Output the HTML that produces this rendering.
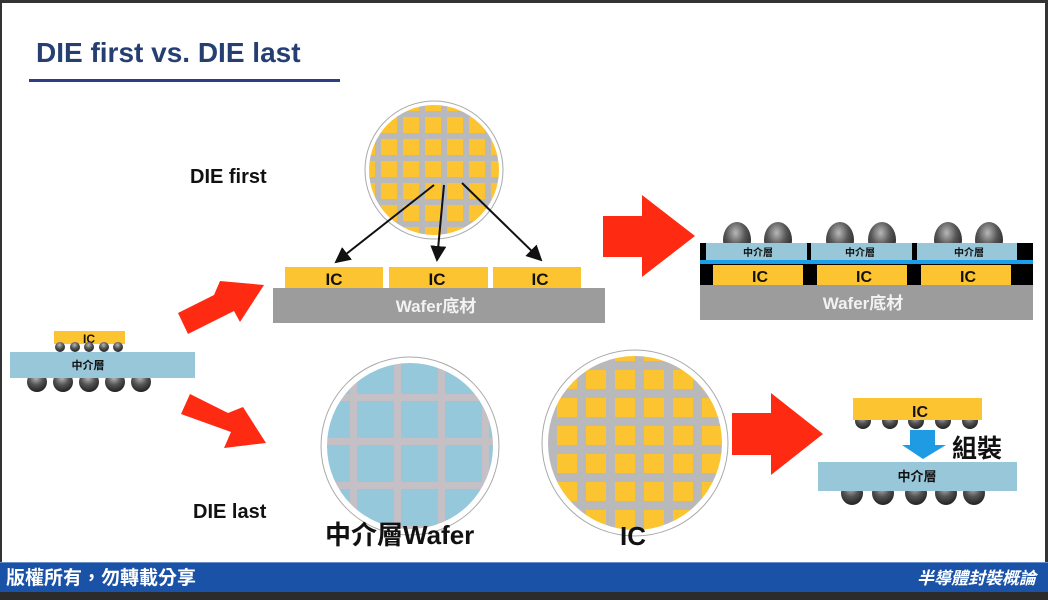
<!DOCTYPE html>
<html><head><meta charset="utf-8"><style>
html,body{margin:0;padding:0;background:#fff;}
body{width:1048px;height:600px;overflow:hidden;position:relative;}
svg{position:absolute;left:0;top:0;}
text{font-family:"Liberation Sans","Noto Sans CJK TC",sans-serif;}
</style></head><body>
<svg width="1048" height="600" viewBox="0 0 1048 600">
<defs>
<pattern id="yg" x="2" y="2" width="22" height="22" patternUnits="userSpaceOnUse">
<rect width="22" height="22" fill="#b9b9bb"/><rect x="5" y="5" width="16" height="16" fill="#fcc430"/></pattern>
<pattern id="yg2" x="0" y="0" width="29" height="28" patternUnits="userSpaceOnUse">
<rect width="29" height="28" fill="#b9b9bb"/><rect x="6" y="6" width="20" height="19" fill="#fcc430"/></pattern>
<pattern id="bg" x="0" y="0" width="44" height="44" patternUnits="userSpaceOnUse">
<rect width="44" height="44" fill="#c4c0c6"/><rect x="5" y="5" width="37" height="37" fill="#94c8da"/></pattern>
<radialGradient id="ball" cx="0.45" cy="0.3" r="0.7"><stop offset="0" stop-color="#b8b8b8"/><stop offset="0.5" stop-color="#555"/><stop offset="1" stop-color="#222"/></radialGradient>
<marker id="ah" markerWidth="8" markerHeight="8" refX="7" refY="4" orient="auto"><path d="M0,0 L8,4 L0,8 z" fill="#111"/></marker>
</defs>
<rect x="0" y="0" width="1048" height="3" fill="#333"/>
<rect x="0" y="0" width="2" height="600" fill="#333"/>
<rect x="1045" y="0" width="3" height="600" fill="#333"/>
<text x="36" y="62" font-size="28" font-weight="bold" fill="#263f73">DIE first vs. DIE last</text>
<rect x="29" y="79" width="311" height="3" fill="#2d3f7d"/>

<text x="190" y="183" font-size="20" font-weight="bold" fill="#111">DIE first</text>
<text x="193" y="518" font-size="20" font-weight="bold" fill="#111">DIE last</text>

<circle cx="434" cy="170" r="69" fill="#fff" stroke="#aaa" stroke-width="1"/>
<circle cx="434" cy="170" r="65" fill="url(#yg)"/>
<line x1="434" y1="185" x2="336" y2="262" stroke="#111" stroke-width="2" marker-end="url(#ah)"/>
<line x1="444" y1="185" x2="437" y2="260" stroke="#111" stroke-width="2" marker-end="url(#ah)"/>
<line x1="462" y1="183" x2="541" y2="260" stroke="#111" stroke-width="2" marker-end="url(#ah)"/>
<rect x="285" y="267" width="98" height="22" fill="#fcc430"/>
<rect x="389" y="267" width="99" height="22" fill="#fcc430"/>
<rect x="493" y="267" width="88" height="22" fill="#fcc430"/>
<g font-size="17" font-weight="bold" fill="#111" text-anchor="middle">
<text x="334" y="285">IC</text><text x="437" y="285">IC</text><text x="540" y="285">IC</text></g>
<rect x="273" y="288" width="332" height="35" fill="#9c9c9c"/>
<text x="436" y="312" font-size="17" font-weight="bold" fill="#f2f2f2" text-anchor="middle">Wafer底材</text>

<rect x="54" y="331" width="71" height="13" fill="#fcc430"/>
<text x="89" y="343" font-size="12" font-weight="bold" fill="#111" text-anchor="middle">IC</text>
<g fill="url(#ball)"><circle cx="60" cy="347" r="5"/><circle cx="75" cy="347" r="5"/><circle cx="89" cy="347" r="5"/><circle cx="104" cy="347" r="5"/><circle cx="118" cy="347" r="5"/></g>
<g fill="url(#ball)"><ellipse cx="37" cy="382" rx="10" ry="10"/><ellipse cx="63" cy="382" rx="10" ry="10"/><ellipse cx="89" cy="382" rx="10" ry="10"/><ellipse cx="115" cy="382" rx="10" ry="10"/><ellipse cx="141" cy="382" rx="10" ry="10"/></g>
<rect x="10" y="352" width="185" height="26" fill="#97c7d8"/>
<text x="88" y="369" font-size="11" font-weight="bold" fill="#111" text-anchor="middle">中介層</text>

<polygon fill="#fe2a12" points="178,313 214,295 220,281 264,285 240,322 234,311 188,334"/>
<polygon fill="#fe2a12" points="181,414 190,394 228,413 243,407 266,443 224,448 231,432"/>
<polygon fill="#fe2a12" points="603,216 642,216 642,195 695,236 642,277 642,257 603,257"/>
<polygon fill="#fe2a12" points="732,413 771,413 771,393 823,434 771,475 771,455 732,455"/>

<g fill="url(#ball)">
<ellipse cx="737" cy="240" rx="14" ry="18"/><ellipse cx="778" cy="240" rx="14" ry="18"/>
<ellipse cx="840" cy="240" rx="14" ry="18"/><ellipse cx="882" cy="240" rx="14" ry="18"/>
<ellipse cx="948" cy="240" rx="14" ry="18"/><ellipse cx="989" cy="240" rx="14" ry="18"/></g>
<rect x="700" y="243" width="333" height="43" fill="#000"/>
<rect x="706" y="243" width="101" height="17" fill="#97c7d8"/>
<rect x="811" y="243" width="101" height="17" fill="#97c7d8"/>
<rect x="917" y="243" width="100" height="17" fill="#97c7d8"/>
<rect x="700" y="260" width="333" height="4" fill="#1aa0e8"/>
<rect x="713" y="265" width="90" height="21" fill="#fcc430"/>
<rect x="817" y="265" width="90" height="21" fill="#fcc430"/>
<rect x="921" y="265" width="90" height="21" fill="#fcc430"/>
<g font-size="10" font-weight="bold" fill="#111" text-anchor="middle">
<text x="758" y="256">中介層</text><text x="860" y="256">中介層</text><text x="969" y="256">中介層</text></g>
<g font-size="16" font-weight="bold" fill="#111" text-anchor="middle">
<text x="760" y="282">IC</text><text x="864" y="282">IC</text><text x="968" y="282">IC</text></g>
<rect x="700" y="285" width="333" height="35" fill="#9c9c9c"/>
<text x="863" y="309" font-size="17" font-weight="bold" fill="#f2f2f2" text-anchor="middle">Wafer底材</text>

<circle cx="410" cy="446" r="89" fill="#fff" stroke="#aaa" stroke-width="1"/>
<circle cx="410" cy="446" r="83" fill="url(#bg)"/>
<circle cx="635" cy="443" r="93" fill="#fff" stroke="#aaa" stroke-width="1"/>
<circle cx="635" cy="443" r="87" fill="url(#yg2)"/>
<text x="325" y="544" font-size="26" font-weight="bold" fill="#111">中介層Wafer</text>
<text x="633" y="545" font-size="26" font-weight="bold" fill="#111" text-anchor="middle">IC</text>

<g fill="url(#ball)"><circle cx="863" cy="421" r="8"/><circle cx="890" cy="421" r="8"/><circle cx="916" cy="421" r="8"/><circle cx="943" cy="421" r="8"/><circle cx="970" cy="421" r="8"/></g>
<rect x="853" y="398" width="129" height="22" fill="#fcc430"/>
<text x="920" y="417" font-size="16" font-weight="bold" fill="#111" text-anchor="middle">IC</text>
<polygon fill="#1e9be3" points="910,430 935,430 935,445 946,445 923,459 902,445 910,445"/>
<text x="952" y="457" font-size="25" font-weight="bold" fill="#111">組裝</text>
<g fill="url(#ball)"><ellipse cx="852" cy="493" rx="11" ry="12"/><ellipse cx="883" cy="493" rx="11" ry="12"/><ellipse cx="916" cy="493" rx="11" ry="12"/><ellipse cx="946" cy="493" rx="11" ry="12"/><ellipse cx="974" cy="493" rx="11" ry="12"/></g>
<rect x="818" y="462" width="199" height="29" fill="#97c7d8"/>
<text x="917" y="481" font-size="13" font-weight="bold" fill="#111" text-anchor="middle">中介層</text>

<rect x="0" y="562" width="1048" height="30" fill="#1a52a8"/>
<rect x="0" y="562" width="1048" height="1" fill="#6a8fc8"/>
<rect x="0" y="592" width="1048" height="8" fill="#2b2b2b"/>
<text x="6" y="584" font-size="19" font-weight="bold" fill="#fff">版權所有，勿轉載分享</text>
<text x="1036" y="584" font-size="17" font-weight="bold" font-style="italic" fill="#fff" text-anchor="end">半導體封裝概論</text>
</svg>
</body></html>
